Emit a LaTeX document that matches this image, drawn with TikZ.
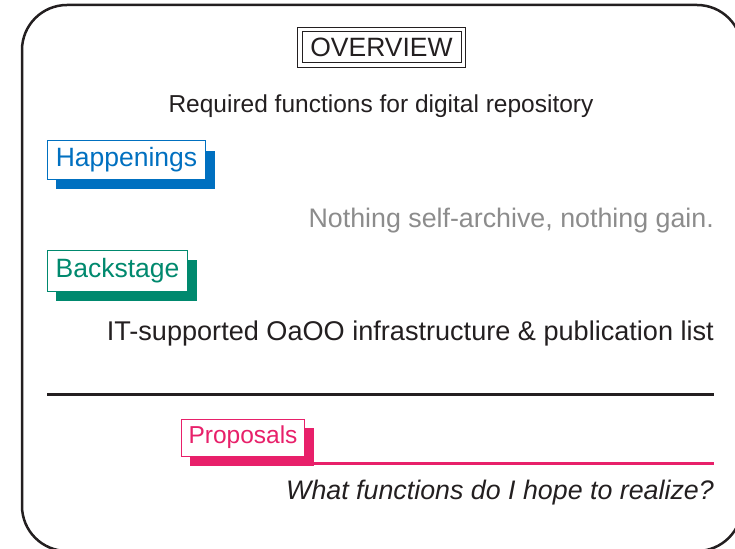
\documentclass[tikz,border=0pt]{standalone}
\usepackage{fontspec}
\setmainfont{Liberation Sans}
\usetikzlibrary{shadows}
\definecolor{framecol}{HTML}{231F20}
\definecolor{hapblue}{HTML}{0070C0}
\definecolor{backgreen}{HTML}{00896E}
\definecolor{proppink}{HTML}{E8206A}
\definecolor{graytext}{HTML}{8C8C8C}
\begin{document}
\begin{tikzpicture}[x=1pt,y=-1pt,
  maintext/.style={font=\fontsize{26.8}{32}\selectfont, inner sep=0pt, text=framecol},
  tagbox/.style={draw=#1, text=#1, fill=white, line width=1pt,
    font=\fontsize{26.5}{32}\selectfont, inner xsep=8.5pt, inner ysep=0pt,
    general shadow={fill=#1, shadow xshift=9pt, shadow yshift=-10pt}},
  rulestyle/.style={line width=3.3pt, framecol},
]
\useasboundingbox (0,0) rectangle (735,548);
\begin{scope}
  \clip (0,0) rectangle (735,548);
  \draw[framecol, line width=2.5pt, rounded corners=45pt] (22,5) rectangle (742,551);
\end{scope}

% title
\node[draw=framecol, line width=1pt, minimum width=159pt, minimum height=31pt,
      inner sep=0pt, font=\fontsize{26.5}{32}\selectfont, text=framecol] (ov) at (381.5,47.5) {OVERVIEW};
\draw[framecol, line width=1.4pt] ([shift={(-4,-4)}]ov.north west) rectangle ([shift={(4,4)}]ov.south east);

\node[maintext, font=\fontsize{24.5}{30}\selectfont, anchor=base] (req) at (381,113) {Required functions for digital repository};

% Happenings
\node[tagbox=hapblue, minimum height=38pt] (hap) at (126.5,160) {Happenings};
\node[maintext, text=graytext, anchor=base east] (nothing) at (714,227) {Nothing self-archive, nothing gain.};

% Backstage
\node[tagbox=backgreen, minimum height=41pt] (back) at (117.5,270.5) {Backstage};
\node[maintext, font=\fontsize{27.1}{32}\selectfont, anchor=base east] (it) at (714,340) {IT-supported OaOO infrastructure \& publication list};

% rule
\coordinate (rl) at (47,394.5);
\coordinate (rr) at (714,394.5);
\draw[rulestyle] (rl) -- (rr);

% Proposals
\coordinate (pend) at (714,463.5);
\draw[proppink, line width=3pt] (300,463.5) -- (pend);
\node[tagbox=proppink, font=\fontsize{24.5}{30}\selectfont, inner xsep=7.5pt, minimum height=37pt,
      general shadow={fill=proppink, shadow xshift=9pt, shadow yshift=-9pt}] (prop) at (243,437.5) {Proposals};
\node[maintext, font=\fontsize{26.8}{32}\itshape\selectfont, anchor=base east] (what) at (714,499) {What functions do I hope to realize?};
\end{tikzpicture}
\end{document}
